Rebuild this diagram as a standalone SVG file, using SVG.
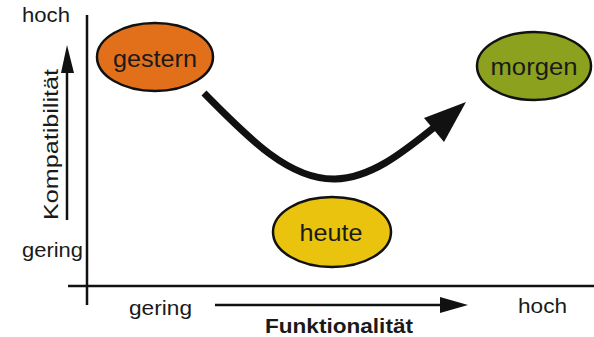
<svg xmlns="http://www.w3.org/2000/svg" width="594" height="337" viewBox="0 0 594 337">
<style>
  .lbl { font-family: "Liberation Sans", Arial, sans-serif; fill: #1a1a1a; }
  .ax { font-size: 21px; }
  .node ellipse { stroke: #111; stroke-width: 2.5; }
  .node text { font-size: 24px; text-anchor: middle; }
  .axis { stroke: #111; stroke-width: 2.5; fill: none; }
</style>
<rect width="594" height="337" fill="#ffffff"/>
<g id="axes">
  <line class="axis" x1="87" y1="15" x2="87" y2="305"/>
  <line class="axis" x1="68" y1="286" x2="594" y2="286"/>
  <line class="axis" x1="67" y1="220" x2="67" y2="70"/>
  <polygon points="67,45 61,73 74,73" fill="#111"/>
  <line class="axis" x1="215" y1="305" x2="443" y2="305"/>
  <polygon points="468,305 440,297 440,313" fill="#111"/>
</g>
<g id="labels">
  <text class="lbl ax" x="22" y="22" textLength="48" lengthAdjust="spacingAndGlyphs">hoch</text>
  <text class="lbl ax" x="22" y="257" textLength="61" lengthAdjust="spacingAndGlyphs">gering</text>
  <text class="lbl ax" x="129" y="315" textLength="63" lengthAdjust="spacingAndGlyphs">gering</text>
  <text class="lbl ax" x="518" y="313" textLength="49" lengthAdjust="spacingAndGlyphs">hoch</text>
  <text class="lbl ax" x="265" y="333" font-weight="bold" textLength="148" lengthAdjust="spacingAndGlyphs">Funktionalität</text>
  <text class="lbl ax" transform="translate(58,220) rotate(-90)" x="0" y="0" textLength="151" lengthAdjust="spacingAndGlyphs">Kompatibilität</text>
</g>
<g id="connectors">
  <path d="M204,93 C250,140 290,180 335,179 C370,178 400,155 437,125" fill="none" stroke="#111" stroke-width="7"/>
  <polygon points="466,102 424,118 444,142" fill="#111"/>
</g>
<g id="gestern" class="node">
  <ellipse cx="155" cy="57" rx="58" ry="34" fill="#E2701A"/>
  <text class="lbl" x="155" y="67" textLength="84" lengthAdjust="spacingAndGlyphs">gestern</text>
</g>
<g id="morgen" class="node">
  <ellipse cx="534" cy="66" rx="57" ry="34" fill="#8CA21E"/>
  <text class="lbl" x="534" y="75" textLength="87" lengthAdjust="spacingAndGlyphs">morgen</text>
</g>
<g id="heute" class="node">
  <ellipse cx="332" cy="232" rx="59" ry="35" fill="#E9C30E"/>
  <text class="lbl" x="331" y="241" textLength="63" lengthAdjust="spacingAndGlyphs">heute</text>
</g>
</svg>
